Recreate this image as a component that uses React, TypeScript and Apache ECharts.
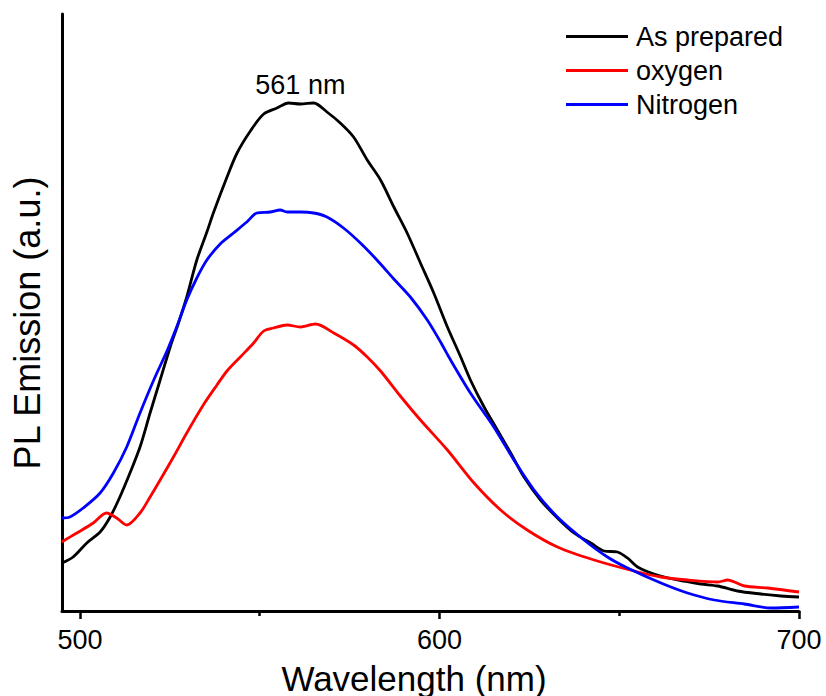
import React, { useEffect, useRef } from "react";
import * as echarts from "echarts";

const seriesNames = ["As prepared", "oxygen", "Nitrogen"];
const seriesColors = ["#000000", "#ff0000", "#0000ff"];

const asPreparedX = [495.0, 498.1, 501.9, 505.6, 508.4, 511.1, 513.9, 516.7, 519.5, 522.3, 525.1, 527.4, 529.7, 532.5, 535.3, 537.1, 540.9, 543.7, 547.4, 551.1, 554.8, 558.0, 561.3, 565.0, 568.7, 572.4, 576.1, 579.9, 583.6, 587.3, 591.0, 594.7, 598.4, 602.2, 605.9, 608.6, 612.4, 616.1, 619.8, 623.5, 628.1, 632.8, 637.4, 642.1, 645.8, 649.5, 652.3, 655.1, 659.7, 666.2, 672.7, 677.4, 682.9, 689.4, 695.0, 700.0];
const asPreparedY = [48, 54, 68, 79, 94, 114, 138, 164, 198, 231, 264, 288, 314, 351, 379, 398, 434, 458, 480, 497, 503, 508, 507, 508, 499, 488, 474, 451, 431, 404, 378, 348, 318, 284, 254, 231, 204, 181, 158, 134, 111, 93, 78, 68, 60, 59, 53, 44, 37, 31, 27, 25, 20, 17, 15, 14];

const oxygenX = [494.9, 499.1, 503.7, 507.4, 510.2, 513.0, 516.7, 519.5, 522.3, 526.0, 529.7, 534.3, 538.1, 540.9, 544.6, 548.3, 551.1, 553.8, 557.6, 561.3, 565.5, 570.6, 576.1, 579.9, 583.6, 589.1, 594.7, 602.2, 609.6, 617.0, 624.4, 632.8, 643.0, 654.1, 661.6, 669.0, 677.4, 680.2, 682.0, 684.8, 691.3, 700.0];
const oxygenY = [69, 78, 88, 98, 93, 86, 98, 114, 131, 154, 178, 206, 226, 240, 254, 268, 280, 283, 286, 284, 287, 278, 266, 254, 240, 215, 191, 161, 128, 101, 81, 64, 51, 40, 34, 31, 29, 31, 29, 25, 23, 19];

const nitrogenX = [494.9, 497.2, 500.9, 505.6, 509.3, 513.0, 516.7, 520.4, 524.2, 526.9, 529.7, 532.5, 535.3, 539.0, 542.7, 546.4, 549.2, 552.9, 555.7, 557.6, 561.3, 565.0, 568.7, 573.3, 578.0, 582.6, 587.3, 591.9, 596.6, 600.3, 602.6, 608.6, 615.1, 620.7, 626.3, 632.8, 640.2, 646.7, 652.3, 661.6, 669.0, 676.4, 684.8, 692.2, 700.0];
const nitrogenY = [93, 94, 103, 118, 138, 164, 198, 230, 260, 284, 311, 333, 351, 367, 378, 389, 398, 399, 401, 399, 399, 398, 394, 383, 368, 351, 332, 314, 291, 269, 254, 218, 184, 151, 121, 94, 71, 54, 43, 28, 18, 11, 7, 3, 4];

const majorTicks = [500, 600, 700];
const minorTicks = [550, 650];
const xTitle = "Wavelength (nm)";
const yTitle = "PL Emission (a.u.)";
const peakLabel = "561 nm";
const peakPoint = [561.3, 508];

const FONT = "Arial, 'Liberation Sans', sans-serif";

function zip(xs: number[], ys: number[]) {
  return xs.map((x, i) => [x, ys[i]]);
}

export default function App() {
  const ref = useRef<HTMLDivElement>(null);
  useEffect(() => {
    if (!ref.current) return;
    const chart = echarts.init(ref.current, null, { renderer: "svg" });
    const datasets = [zip(asPreparedX, asPreparedY), zip(oxygenX, oxygenY), zip(nitrogenX, nitrogenY)];
    chart.setOption({
      animation: false,
      backgroundColor: "#ffffff",
      grid: { left: 62, right: 27, top: 14, bottom: 85, containLabel: false },
      legend: {
        orient: "vertical",
        left: 561,
        top: 18,
        itemWidth: 62,
        itemHeight: 3,
        itemGap: 7,
        icon: "rect",
        data: seriesNames,
        textStyle: { fontSize: 27, fontFamily: FONT, color: "#000", padding: [0, 0, 0, 3] },
      },
      xAxis: [
        {
          type: "value",
          min: 495,
          max: 700,
          position: "bottom",
          axisLine: { show: true, lineStyle: { color: "#000", width: 3 } },
          axisTick: { show: true, customValues: majorTicks, length: 8, lineStyle: { color: "#000", width: 2.5 } },
          axisLabel: { show: true, customValues: majorTicks, margin: 15, fontSize: 27, fontFamily: FONT, color: "#000" },
          splitLine: { show: false },
        },
        {
          type: "value",
          min: 495,
          max: 700,
          position: "bottom",
          offset: 0,
          axisLine: { show: false },
          axisTick: { show: true, customValues: minorTicks, length: 5, lineStyle: { color: "#000", width: 2.5 } },
          axisLabel: { show: false },
          splitLine: { show: false },
        },
      ],
      yAxis: {
        type: "value",
        min: 0,
        max: 597,
        axisLine: { show: true, lineStyle: { color: "#000", width: 3 } },
        axisTick: { show: false },
        axisLabel: { show: false },
        splitLine: { show: false },
      },
      graphic: [
        {
          type: "text",
          x: 27,
          y: 323,
          rotation: Math.PI / 2,
          style: {
            text: yTitle,
            fontSize: 36,
            fontFamily: FONT,
            fill: "#000",
            align: "center",
            verticalAlign: "middle",
          },
        },
        {
          type: "text",
          x: 414,
          y: 678,
          style: {
            text: xTitle,
            fontSize: 35,
            fontFamily: FONT,
            fill: "#000",
            align: "center",
            verticalAlign: "middle",
          },
        },
      ],
      series: seriesNames.map((name, i) => ({
        name,
        type: "line",
        xAxisIndex: 0,
        data: datasets[i],
        symbol: "none",
        smooth: 0.3,
        lineStyle: { color: seriesColors[i], width: 2.8 },
        itemStyle: { color: seriesColors[i] },
        markPoint:
          i === 0
            ? {
                symbol: "circle",
                symbolSize: 0,
                data: [{ coord: peakPoint }],
                label: {
                  show: true,
                  formatter: peakLabel,
                  position: "top",
                  distance: 5,
                  fontSize: 27,
                  fontFamily: FONT,
                  color: "#000",
                },
              }
            : undefined,
      })),
    });
    return () => chart.dispose();
  }, []);
  return <div ref={ref} style={{ position: "fixed", left: 0, top: 0, width: 826, height: 696 }} />;
}
